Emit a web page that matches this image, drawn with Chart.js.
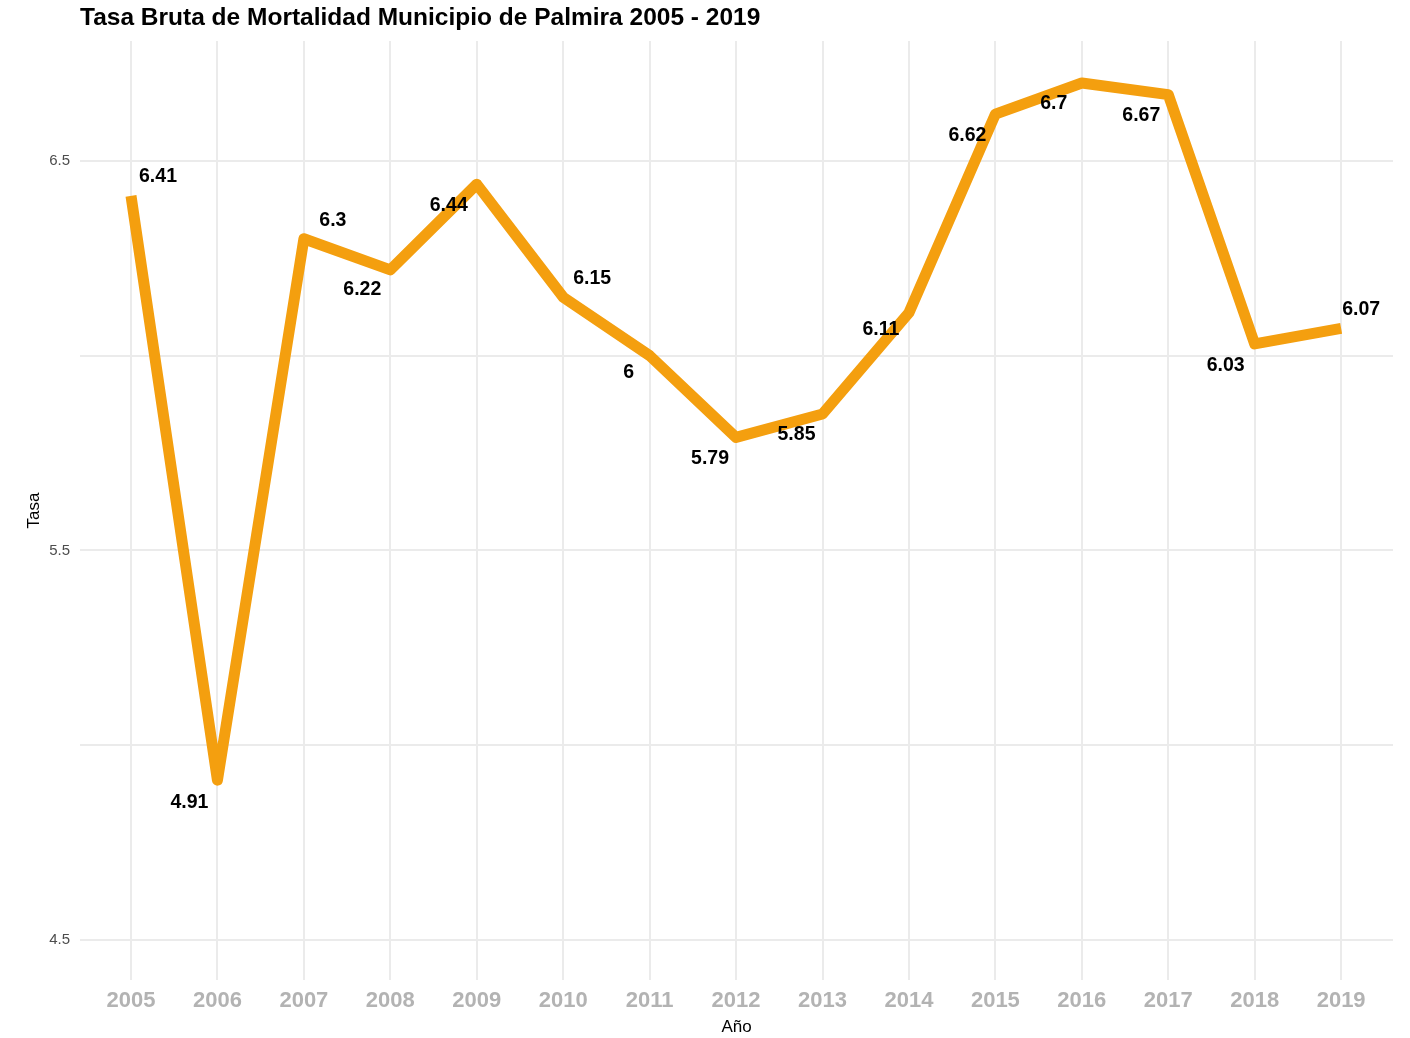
<!DOCTYPE html>
<html>
<head>
<meta charset="utf-8">
<script src="https://cdn.jsdelivr.net/npm/chart.js@4"></script>
<style>
  html, body { margin: 0; padding: 0; background: #fff; }
  #wrap { width: 1410px; height: 1038px; }
</style>
</head>
<body>
<div id="wrap"><canvas id="chart" width="1410" height="1038"></canvas></div>
<script>
// data
const years = [2005, 2006, 2007, 2008, 2009, 2010, 2011, 2012, 2013, 2014, 2015, 2016, 2017, 2018, 2019];
const tasa = [6.41, 4.91, 6.3, 6.22, 6.44, 6.15, 6, 5.79, 5.85, 6.11, 6.62, 6.7, 6.67, 6.03, 6.07];
const yTicks = [4.5, 5, 5.5, 6, 6.5];
const yLabelled = [4.5, 5.5, 6.5];

// label nudges (px), like the repel offsets in the picture
const labelDx = [27, -28, 29, -28, -28, 29, -21, -26, -26, -28, -28, -28, -27, -29, 20];
const labelDy = [-19, 22, -18, 20, 21, -19, 17, 21, 21, 17, 21, 21, 21, 22, -19];

const FONT = '"Liberation Sans", Arial, Helvetica, sans-serif';
const GRID = '#ebebeb';

const valueLabels = {
  id: 'valueLabels',
  afterDatasetsDraw(chart) {
    const ctx = chart.ctx;
    const meta = chart.getDatasetMeta(0);
    ctx.save();
    ctx.font = 'bold 19.5px ' + FONT;
    ctx.fillStyle = '#000';
    ctx.textAlign = 'center';
    ctx.textBaseline = 'middle';
    meta.data.forEach((pt, i) => {
      ctx.fillText(String(tasa[i]), pt.x + labelDx[i], pt.y + labelDy[i]);
    });
    ctx.restore();
  }
};

new Chart(document.getElementById('chart'), {
  type: 'line',
  data: {
    datasets: [{
      data: years.map((y, i) => ({ x: y, y: tasa[i] })),
      borderColor: '#f49f0f',
      borderWidth: 11,
      borderCapStyle: 'butt',
      borderJoinStyle: 'round',
      tension: 0,
      pointRadius: 0,
      fill: false
    }]
  },
  options: {
    responsive: false,
    animation: false,
    layout: { padding: { left: 24, right: 17, top: 0, bottom: 0 } },
    plugins: {
      legend: { display: false },
      tooltip: { enabled: false },
      title: {
        display: true,
        text: 'Tasa Bruta de Mortalidad Municipio de Palmira 2005 - 2019',
        align: 'start',
        fullSize: false,
        color: '#000',
        font: { family: FONT, size: 24.5, weight: 'bold', lineHeight: 1.2 },
        padding: { top: 4, bottom: 7.5 }
      }
    },
    scales: {
      x: {
        type: 'linear',
        min: 2004.41,
        max: 2019.6,
        afterBuildTicks: s => { s.ticks = years.map(v => ({ value: v })); },
        afterFit: s => { s.height = 58; },
        border: { display: false },
        grid: { color: GRID, lineWidth: 2, drawTicks: false },
        ticks: {
          padding: 8,
          color: '#b3b3b3',
          font: { family: FONT, size: 22, weight: 'bold' },
          callback: v => String(v),
          maxRotation: 0,
          autoSkip: false
        },
        title: {
          display: true,
          text: 'Año',
          color: '#000',
          font: { family: FONT, size: 17 },
          padding: { top: 0, bottom: 0 }
        }
      },
      y: {
        min: 4.397,
        max: 6.808,
        afterBuildTicks: s => { s.ticks = yTicks.map(v => ({ value: v })); },
        afterFit: s => { s.width = 56; },
        border: { display: false },
        grid: { color: GRID, lineWidth: 2, drawTicks: false },
        ticks: {
          padding: 10,
          color: '#4d4d4d',
          font: { family: FONT, size: 15 },
          callback: v => yLabelled.includes(v) ? String(v) : ''
        },
        title: {
          display: true,
          text: 'Tasa',
          color: '#000',
          font: { family: FONT, size: 17 },
          padding: { top: 0, bottom: 0 }
        }
      }
    }
  },
  plugins: [valueLabels]
});
</script>
</body>
</html>
